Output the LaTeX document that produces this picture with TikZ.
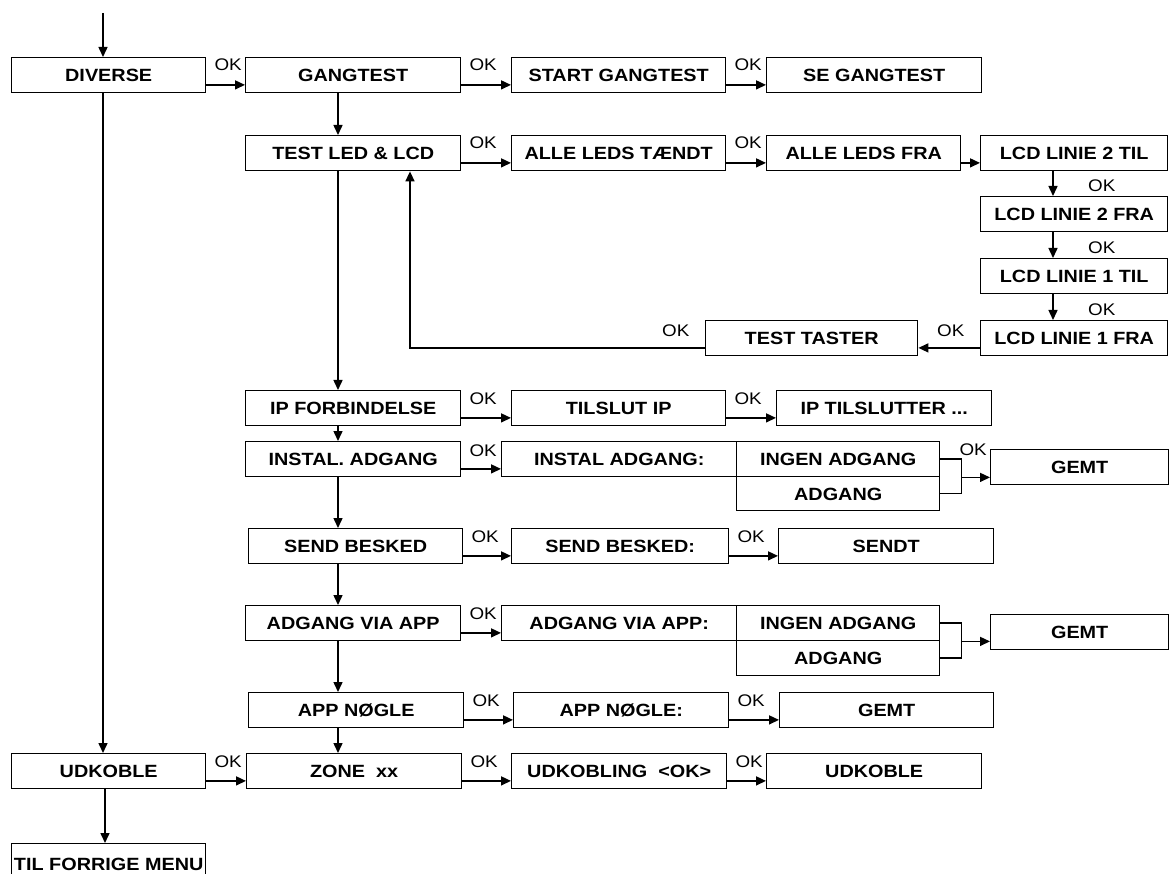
\documentclass[tikz,border=0pt]{standalone}
\usepackage{fontspec}
\setmainfont{Liberation Sans}[FakeStretch=1.12]
\usetikzlibrary{arrows.meta,calc}
\newcommand\harr[2]{\draw[arr] ($(#1.south east)+(0,-8.5)$) coordinate (#1-#2) -- (#1-#2 -| #2.west);}
\begin{document}
\begin{tikzpicture}[x=1pt,y=-1pt,
  bx/.style={draw, line width=1.4pt, inner sep=0pt, anchor=north west, minimum height=35pt,
    text height=12.7pt, text depth=0pt, font=\bfseries\fontsize{17.7}{20}\selectfont},
  ok/.style={inner sep=0pt, anchor=base west, font=\fontsize{16.8}{18}\selectfont},
  ln/.style={line width=1.5pt},
  arr/.style={ln, -{Triangle[length=10pt,width=9pt]}}]
\clip (0,0) rectangle (1170,874);
% boxes
\node[bx, minimum width=194pt] (div) at (11,57) {DIVERSE};
\node[bx, minimum width=215pt] (gang) at (245,57) {GANGTEST};
\node[bx, minimum width=214pt] (sg) at (511,57) {START GANGTEST};
\node[bx, minimum width=215pt] (seg) at (766,57) {SE GANGTEST};
\node[bx, minimum width=215pt] (tled) at (245,135) {TEST LED \& LCD};
\node[bx, minimum width=214pt] (alt) at (511,135) {ALLE LEDS TÆNDT};
\node[bx, minimum width=194pt] (alf) at (766,135) {ALLE LEDS FRA};
\node[bx, minimum width=187pt] (l2t) at (980,135) {LCD LINIE 2 TIL};
\node[bx, minimum width=187pt] (l2f) at (980,196) {LCD LINIE 2 FRA};
\node[bx, minimum width=187pt] (l1t) at (980,258) {LCD LINIE 1 TIL};
\node[bx, minimum width=187pt] (l1f) at (980,320) {LCD LINIE 1 FRA};
\node[bx, minimum width=212pt] (tt) at (705,320) {TEST TASTER};
\node[bx, minimum width=215pt] (ip) at (245,390) {IP FORBINDELSE};
\node[bx, minimum width=214pt] (tip) at (511,390) {TILSLUT IP};
\node[bx, minimum width=215pt] (ipt) at (776,390) {IP TILSLUTTER ...};
\node[bx, minimum width=215pt] (ia) at (245,441) {INSTAL. ADGANG};
\node[bx, minimum width=235pt] (ia2) at (501,441) {INSTAL ADGANG:};
\node[bx, minimum width=203pt] (ing1) at (736,441) {INGEN ADGANG};
\node[bx, minimum width=203pt, minimum height=34pt] (adg1) at (736,476) {ADGANG};
\node[bx, minimum width=178pt] (gemt1) at (990,449) {GEMT};
\node[bx, minimum width=214pt] (sb) at (248,528) {SEND BESKED};
\node[bx, minimum width=217pt] (sb2) at (511,528) {SEND BESKED:};
\node[bx, minimum width=215pt] (sendt) at (778,528) {SENDT};
\node[bx, minimum width=215pt] (ava) at (245,605) {ADGANG VIA APP};
\node[bx, minimum width=235pt] (ava2) at (501,605) {ADGANG VIA APP:};
\node[bx, minimum width=203pt] (ing2) at (736,605) {INGEN ADGANG};
\node[bx, minimum width=203pt] (adg2) at (736,640) {ADGANG};
\node[bx, minimum width=178pt] (gemt2) at (990,614) {GEMT};
\node[bx, minimum width=215pt] (an) at (248,692) {APP NØGLE};
\node[bx, minimum width=215pt] (an2) at (513,692) {APP NØGLE:};
\node[bx, minimum width=214pt] (gemt3) at (779,692) {GEMT};
\node[bx, minimum width=194pt] (ud) at (11,753) {UDKOBLE};
\node[bx, minimum width=215pt] (zone) at (246,753) {ZONE~~xx};
\node[bx, minimum width=215pt] (udk) at (511,753) {UDKOBLING~~<OK>};
\node[bx, minimum width=215pt] (udk2) at (766,753) {UDKOBLE};
\node[bx, minimum width=194pt, minimum height=40pt] (tfm) at (11,843) {TIL FORRIGE MENU};
% horizontal arrows
\harr{div}{gang}\harr{gang}{sg}\harr{sg}{seg}
\harr{tled}{alt}\harr{alt}{alf}\harr{alf}{l2t}
\harr{ip}{tip}\harr{tip}{ipt}
\harr{ia}{ia2}
\harr{sb}{sb2}\harr{sb2}{sendt}
\harr{ava}{ava2}
\harr{an}{an2}\harr{an2}{gemt3}
\harr{ud}{zone}\harr{zone}{udk}\harr{udk}{udk2}
% vertical arrows
\coordinate (in) at (103,13);
\coordinate (xa) at (103,0);
\coordinate (xa2) at (105,0);
\coordinate (xb) at (338,0);
\coordinate (xl) at (1053,0);
\coordinate (rt) at (410,0);
\draw[arr] (in) -- (in |- div.north);
\draw[arr] (xa |- div.south) -- (xa |- ud.north);
\draw[arr] (xa2 |- ud.south) -- (xa2 |- tfm.north);
\draw[arr] (xb |- gang.south) -- (xb |- tled.north);
\draw[arr] (xb |- tled.south) -- (xb |- ip.north);
\draw[arr] (xb |- ip.south) -- (xb |- ia.north);
\draw[arr] (xb |- ia.south) -- (xb |- sb.north);
\draw[arr] (xb |- sb.south) -- (xb |- ava.north);
\draw[arr] (xb |- ava.south) -- (xb |- an.north);
\draw[arr] (xb |- an.south) -- (xb |- zone.north);
\draw[arr] (xl |- l2t.south) -- (xl |- l2f.north);
\draw[arr] (xl |- l2f.south) -- (xl |- l1t.north);
\draw[arr] (xl |- l1t.south) -- (xl |- l1f.north);
% back loop
\draw[arr] ($(l1f.south west)+(0,-8.5)$) coordinate (q1) -- (q1 -| tt.east);
\draw[arr] ($(tt.south west)+(0,-8.5)$) -| (rt |- tled.south);
% brackets
\draw[ln] (ing1.east) -- ++(21,0) |- (adg1.east);
\coordinate (b1) at ($(ing1.south east)+(21,0)$);
\draw[arr] (b1) -- (b1 -| gemt1.west);
\draw[ln] (ing2.east) -- ++(21,0) |- (adg2.east);
\coordinate (b2) at ($(ing2.south east)+(21,0)$);
\draw[arr] (b2) -- (b2 -| gemt2.west);
% OK labels
\node[ok] (ok1) at ($(div.north east)+(8,14)$) {OK};
\node[ok] (ok2) at ($(gang.north east)+(8,14)$) {OK};
\node[ok] (ok3) at ($(sg.north east)+(8,14)$) {OK};
\node[ok] (ok4) at ($(tled.north east)+(8,14)$) {OK};
\node[ok] (ok5) at ($(alt.north east)+(8,14)$) {OK};
\node[ok] (ok6) at ($(l2f.north west)+(108,-4)$) {OK};
\node[ok] (ok7) at ($(l1t.north west)+(108,-4)$) {OK};
\node[ok] (ok8) at ($(l1f.north west)+(108,-4)$) {OK};
\node[ok] (ok9) at ($(l1f.north west)+(-43,17)$) {OK};
\node[ok] (ok10) at ($(tt.north west)+(-43,17)$) {OK};
\node[ok] (ok11) at ($(ip.north east)+(8,15)$) {OK};
\node[ok] (ok12) at ($(tip.north east)+(8,15)$) {OK};
\node[ok] (ok13) at ($(ia.north east)+(8,15)$) {OK};
\node[ok] (ok14) at ($(ing1.north east)+(19,14)$) {OK};
\node[ok] (ok15) at ($(sb.north east)+(8,14)$) {OK};
\node[ok] (ok16) at ($(sb2.north east)+(8,14)$) {OK};
\node[ok] (ok17) at ($(ava.north east)+(8,14)$) {OK};
\node[ok] (ok18) at ($(an.north east)+(8,14)$) {OK};
\node[ok] (ok19) at ($(an2.north east)+(8,14)$) {OK};
\node[ok] (ok20) at ($(ud.north east)+(8,14)$) {OK};
\node[ok] (ok21) at ($(zone.north east)+(8,14)$) {OK};
\node[ok] (ok22) at ($(udk.north east)+(8,14)$) {OK};
\end{tikzpicture}
\end{document}
